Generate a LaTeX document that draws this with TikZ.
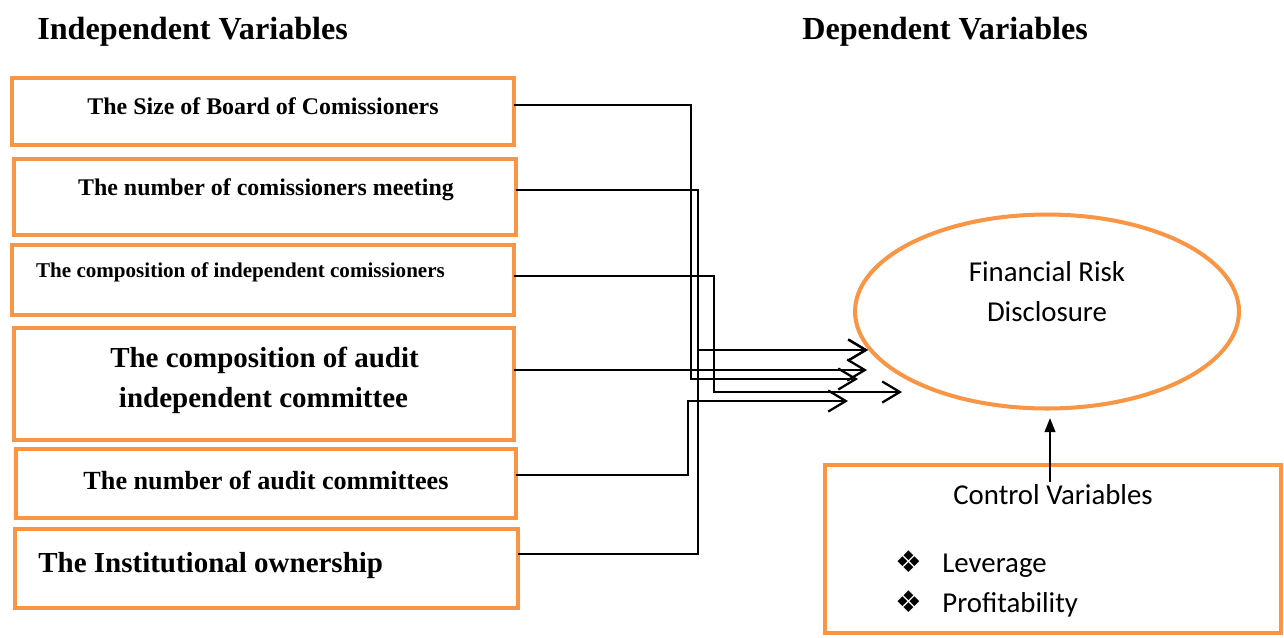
\documentclass[tikz,border=0pt]{standalone}
\usepackage{fontspec}
\setmainfont{Liberation Serif}
\newfontfamily\calib{Carlito}
\newfontfamily\dejavu{DejaVu Sans}
\usetikzlibrary{arrows.meta,shapes.geometric}
\definecolor{accorange}{HTML}{F79646}
\begin{document}
\begin{tikzpicture}[x=0.02cm,y=-0.02cm,
  varbox/.style={draw=accorange,line width=2.3pt,inner sep=0pt,outer sep=0pt,minimum width=10.04cm},
  boxtext/.style={font=\bfseries,inner sep=0pt,anchor=base},
  heading/.style={font=\fontsize{18.3}{21}\selectfont\bfseries,inner sep=0pt,anchor=base west},
  calibtext/.style={font=\calib\fontsize{16.4}{20}\selectfont,inner sep=0pt},
  bullet/.style={inner sep=0pt,anchor=base west,font=\dejavu\fontsize{17}{20}\selectfont},
  conn/.style={line width=1.3pt,-{Straight Barb[length=10pt,width=12pt]}}
]
\useasboundingbox (0,0) rectangle (1284,637);

% headings
\node[heading] (hind) at (37,39) {Independent Variables};
\node[heading] (hdep) at (802,39) {Dependent Variables};

% independent variable boxes
\node[varbox,minimum height=1.34cm] (b1) at (263,111.5) {};
\node[varbox,minimum height=1.52cm] (b2) at (265,197) {};
\node[varbox,minimum height=1.40cm] (b3) at (263,280) {};
\node[varbox,minimum height=2.24cm,minimum width=10.0cm] (b4) at (264,384) {};
\node[varbox,minimum height=1.38cm,minimum width=10.0cm] (b5) at (266,483.5) {};
\node[varbox,minimum height=1.58cm,minimum width=10.06cm] (b6) at (266.5,568.5) {};

\node[boxtext,font=\fontsize{13.6}{16}\selectfont\bfseries] (l1) at (263,114.5) {The Size of Board of Comissioners};
\node[boxtext,font=\fontsize{13.6}{16}\selectfont\bfseries] (l2) at (266,195.5) {The number of comissioners meeting};
\node[boxtext,font=\fontsize{12}{14}\selectfont\bfseries] (l3) at (240.5,277) {The composition of independent comissioners};
\node[boxtext,font=\fontsize{16.5}{20}\selectfont\bfseries] (l4a) at (264.5,367.5) {The composition of audit};
\node[boxtext,font=\fontsize{16.5}{20}\selectfont\bfseries] (l4b) at (263.5,407.5) {independent committee};
\node[boxtext,font=\fontsize{14.9}{18}\selectfont\bfseries] (l5) at (266,489) {The number of audit committees};
\node[boxtext,anchor=base west,font=\fontsize{16.5}{20}\selectfont\bfseries] (l6) at (38,572) {The Institutional ownership};

% dependent variable
\node[draw=accorange,line width=2.3pt,ellipse,inner sep=0pt,outer sep=0pt,minimum width=7.68cm,minimum height=3.88cm] (frd) at (1047,311.5) {};
\node[calibtext,anchor=base] (frd1) at (1047,281) {Financial Risk};
\node[calibtext,anchor=base] (frd2) at (1047,321) {Disclosure};

% control variables
\node[draw=accorange,line width=2.3pt,inner sep=0pt,outer sep=0pt,minimum width=9.12cm,minimum height=3.36cm] (cv) at (1053,549) {};
\node[calibtext,anchor=base] (cvt) at (1053,504) {Control Variables};
\node[bullet] (bul1) at (895,572) {❖};
\node[bullet] (bul2) at (895,612) {❖};
\node[calibtext,anchor=base west] (lev) at (942,572) {Leverage};
\node[calibtext,anchor=base west] (prof) at (942,612) {Profitability};

% arrow tips
\coordinate (t1) at (858,379);
\coordinate (t2) at (868,350);
\coordinate (t3) at (902,392);
\coordinate (t4) at (867,370);
\coordinate (t5) at (848,401);
\coordinate (cvs) at (1050,482);
\coordinate (cve) at (1050,418);

% connectors
\draw[conn] (b1.east |- 0,105) -- (691,105) -- (691,379) -- (t1);
\draw[conn] (b2.east |- 0,190) -- (698,190) -- (698,350) -- (t2);
\draw[conn] (b3.east |- 0,276) -- (714,276) -- (714,392) -- (t3);
\draw[conn] (b4.east |- 0,370) -- (t4);
\draw[conn] (b5.east |- 0,475) -- (688,475) -- (688,401) -- (t5);
\draw[conn] (b6.east |- 0,554) -- (698,554) -- (698,350) -- (t2);
\draw[line width=1.3pt,-{Triangle[length=8pt,width=6pt]}] (cvs) -- (cve);
\end{tikzpicture}
\end{document}
